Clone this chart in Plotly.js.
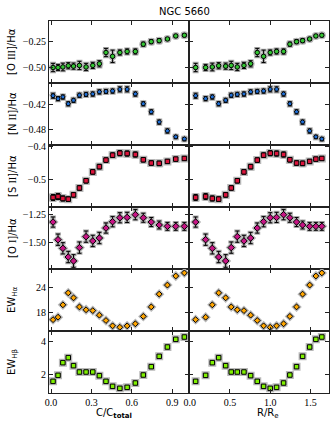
<!DOCTYPE html>
<html><head><meta charset="utf-8">
<script src="https://cdn.plot.ly/plotly-3.0.1.min.js"></script>
<style>html,body{margin:0;padding:0;background:#fff}#chart{width:336px;height:426px}</style>
</head><body><div id="chart"></div>
<script>
// ---- data ----
const xC = [0.015,0.052,0.088,0.128,0.167,0.211,0.260,0.310,0.359,0.408,0.457,0.511,0.565,0.626,0.685,0.744,0.803,0.864,0.926,0.990];
const xR = [0.074,0.198,0.281,0.360,0.447,0.516,0.591,0.674,0.757,0.839,0.918,1.000,1.079,1.166,1.244,1.327,1.402,1.490,1.567,1.641];

const oiii = [-0.500,-0.500,-0.495,-0.483,-0.487,-0.480,-0.495,-0.480,-0.464,-0.355,-0.392,-0.355,-0.345,-0.345,-0.274,-0.250,-0.240,-0.224,-0.195,-0.188];
const oiiiErr = [0.04,0.03,0.037,0.03,0.03,0.04,0.035,0.03,0.03,0.04,0.06,0.025,0.025,0.025,0.02,0.02,0.02,0.015,0.015,0.015];

const nii = [-0.400,-0.407,-0.403,-0.419,-0.411,-0.399,-0.397,-0.396,-0.391,-0.390,-0.389,-0.385,-0.385,-0.396,-0.419,-0.438,-0.462,-0.483,-0.497,-0.502];
const niiErr = [0.006,0.005,0.005,0.005,0.005,0.005,0.005,0.005,0.005,0.005,0.005,0.006,0.006,0.005,0.005,0.005,0.005,0.005,0.004,0.004];

const sii = [-0.554,-0.551,-0.557,-0.559,-0.546,-0.525,-0.503,-0.476,-0.460,-0.440,-0.425,-0.419,-0.420,-0.423,-0.439,-0.449,-0.450,-0.444,-0.437,-0.435];
const siiErr = [0.009,0.009,0.008,0.007,0.007,0.007,0.007,0.007,0.007,0.007,0.007,0.008,0.008,0.008,0.007,0.007,0.007,0.006,0.006,0.006];

const oi = [-1.321,-1.477,-1.553,-1.630,-1.665,-1.547,-1.450,-1.488,-1.462,-1.374,-1.318,-1.283,-1.280,-1.256,-1.283,-1.321,-1.347,-1.359,-1.359,-1.359];
const oiErr = [0.045,0.05,0.05,0.05,0.056,0.05,0.05,0.05,0.05,0.045,0.045,0.045,0.045,0.045,0.04,0.04,0.035,0.035,0.035,0.035];

const ewHa = [16.3,16.9,19.9,22.8,21.6,19.4,18.7,18.5,17.4,16.1,14.8,14.45,14.8,15.3,17.1,19.4,22.5,24.7,26.9,27.65];
const ewHb = [1.60,1.96,2.72,3.02,2.54,2.16,2.16,2.16,1.94,1.60,1.30,1.18,1.24,1.50,1.98,2.48,3.10,3.66,4.12,4.26];

const xTickC = [0, 0.3, 0.6, 0.9];
const xTickR = [0, 0.5, 1.0, 1.5];

const rowsY = [oiii, nii, sii, oi, ewHa, ewHb];
const rowsErr = [oiiiErr, niiErr, siiErr, oiErr, null, null];
const rowLabels = ['[O <span style="font-family:Liberation Serif">III</span>]/Hα','[N <span style="font-family:Liberation Serif">II</span>]/Hα','[S <span style="font-family:Liberation Serif">II</span>]/Hα','[O <span style="font-family:Liberation Serif">I</span>]/Hα','EW<sub>Hα</sub>','EW<sub>Hβ</sub>'];
const rowTicks = [[-0.25,-0.50],[-0.42,-0.48],[-0.4,-0.5],[-1.25,-1.50],[18,24],[2,4]];
const rowTickText = [['−0.25','−0.50'],['−0.42','−0.48'],['−0.4','−0.5'],['−1.25','−1.50'],['18','24'],['2','4']];
const rowRanges = [[-0.65,-0.05],[-0.516,-0.37],[-0.583,-0.394],[-1.736,-1.188],[13.55,28.6],[0.9,4.62]];
const rowColors = ['#33c433','#1f6fd6','#dc143c','#c71585','#ffa500','#7ff000'];
const rowSymbols = ['circle','pentagon','square','diamond','diamond','square'];
const rowSizes = [4.5,4.5,4.5,5,4.5,4.5];

// ---- layout geometry ----
const W = 336, H = 426;
const colDom = [[49/W, 188.7/W],[188.7/W, 329/W]];
const rowTop = 21, rowH = 62;

const layout = {
  width: W, height: H,
  margin: {l:0, r:0, t:0, b:0},
  paper_bgcolor: '#fff', plot_bgcolor: '#fff',
  showlegend: false,
  font: {family: 'DejaVu Sans', size: 10, color: '#000'},
  annotations: []
};
const traces = [];
const axStyle = {showline:true, linecolor:'#222', linewidth:1, mirror:'ticks', ticks:'inside', ticklen:4, tickwidth:1, tickcolor:'#222', showgrid:false, zeroline:false, fixedrange:true,
  tickfont:{family:'Liberation Serif', size:10, color:'#000'}};

for (let r = 0; r < 6; r++) {
  const yTop = 1 - (rowTop + rowH*r)/H;
  const yBot = 1 - (rowTop + rowH*(r+1))/H;
  for (let c = 0; c < 2; c++) {
    const k = r*2 + c + 1;
    const xa = 'xaxis' + (k===1?'':k), ya = 'yaxis' + (k===1?'':k);
    const xs = 'x' + (k===1?'':k), ys = 'y' + (k===1?'':k);
    const isBottom = r === 5;
    layout[xa] = Object.assign({}, axStyle, {
      domain: colDom[c], anchor: ys,
      range: c===0 ? [-0.015, 1.022] : [-0.012, 1.73],
      tickvals: c===0 ? xTickC : xTickR,
      tickformat: '.1f',
      showticklabels: isBottom
    });
    layout[ya] = Object.assign({}, axStyle, {
      domain: [yBot, yTop], anchor: xs,
      range: rowRanges[r],
      tickvals: rowTicks[r], ticktext: rowTickText[r],
      showticklabels: c===0
    });
    const xv = c===0 ? xC : xR;
    const err = rowsErr[r];
    // halo
    traces.push({type:'scatter', mode:'markers', x:xv, y:rowsY[r], xaxis:xs, yaxis:ys,
      marker:{symbol:rowSymbols[r], size:rowSizes[r]+3.5, color:'#b8b8b8'},
      error_y: err ? {type:'data', array:err, visible:true, color:'#aaaaaa', thickness:3, width:3} : undefined,
      hoverinfo:'skip'});
    traces.push({type:'scatter', mode:'markers', x:xv, y:rowsY[r], xaxis:xs, yaxis:ys,
      marker:{symbol:rowSymbols[r], size:rowSizes[r], color:rowColors[r], line:{color:'#000', width:1}},
      error_y: err ? {type:'data', array:err, visible:true, color:'#000', thickness:1, width:2} : undefined});
  }
  layout.annotations.push({text: rowLabels[r], xref:'paper', yref:'paper', x: 12/W, y:(yTop+yBot)/2,
    showarrow:false, textangle:-90, xanchor:'center', yanchor:'middle', font:{family:'DejaVu Sans', size:10}});
}
layout.annotations.push({text:'NGC 5660', xref:'paper', yref:'paper', x:184/W, y:1-12/H, showarrow:false, xanchor:'center', yanchor:'middle', font:{family:'DejaVu Sans', size:10}});
layout.annotations.push({text:'C/C<sub><b>total</b></sub>', xref:'paper', yref:'paper', x:114/W, y:1-413/H, showarrow:false, xanchor:'center', yanchor:'middle', font:{family:'DejaVu Sans', size:10}});
layout.annotations.push({text:'R/R<sub>e</sub>', xref:'paper', yref:'paper', x:268/W, y:1-413/H, showarrow:false, xanchor:'center', yanchor:'middle', font:{family:'DejaVu Sans', size:10}});

Plotly.newPlot('chart', traces, layout, {staticPlot:true, displayModeBar:false});
</script></body></html>
